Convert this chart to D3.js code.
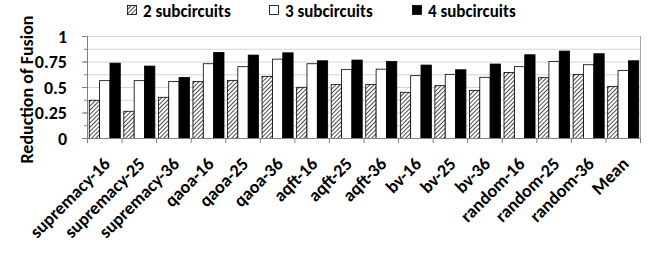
<!DOCTYPE html>
<html>
<head>
<meta charset="utf-8">
<script src="https://cdn.jsdelivr.net/npm/d3@7"></script>
<style>
  body { margin: 0; background: #fff; }
  text { font-family: Carlito, Lato, "Open Sans", sans-serif; font-weight: bold; fill: #000; }
</style>
</head>
<body>
<script>
// data
var categories = ["supremacy-16", "supremacy-25", "supremacy-36", "qaoa-16", "qaoa-25", "qaoa-36",
  "aqft-16", "aqft-25", "aqft-36", "bv-16", "bv-25", "bv-36", "random-16", "random-25", "random-36", "Mean"];
var seriesNames = ["2 subcircuits", "3 subcircuits", "4 subcircuits"];
var sub2 = [0.375, 0.267, 0.404, 0.56, 0.57, 0.609, 0.502, 0.528, 0.528, 0.453, 0.518, 0.472, 0.648, 0.596, 0.629, 0.511];
var sub3 = [0.567, 0.567, 0.56, 0.733, 0.704, 0.778, 0.733, 0.678, 0.68, 0.616, 0.629, 0.6, 0.704, 0.756, 0.723, 0.668];
var sub4 = [0.739, 0.71, 0.599, 0.844, 0.818, 0.84, 0.762, 0.769, 0.756, 0.72, 0.674, 0.73, 0.821, 0.857, 0.831, 0.762];
var yTicks = [0, 0.25, 0.5, 0.75, 1];
var yMinor = [0, 0.125, 0.25, 0.375, 0.5, 0.625, 0.75, 0.875, 1];

var series = [sub2, sub3, sub4];
var fills = ["url(#hatch)", "#fff", "#000"];

var width = 660, height = 254;
var margin = { top: 36, right: 20, bottom: 116, left: 87 };
var w = width - margin.left - margin.right,
    h = height - margin.top - margin.bottom;

var svg = d3.select("body").append("svg")
    .attr("width", width)
    .attr("height", height);

// hatch pattern
var pat = svg.append("defs").append("pattern")
    .attr("id", "hatch")
    .attr("patternUnits", "userSpaceOnUse")
    .attr("width", 3).attr("height", 3)
    .attr("patternTransform", "rotate(45)");
pat.append("rect").attr("width", 3).attr("height", 3).attr("fill", "#fff");
pat.append("line").attr("x1", 0).attr("y1", 0).attr("x2", 0).attr("y2", 3)
    .attr("stroke", "#000").attr("stroke-width", 1.4);

var g = svg.append("g")
    .attr("transform", "translate(" + margin.left + "," + margin.top + ")");

var x = d3.scaleBand().domain(categories).range([0, w]).paddingInner(0).paddingOuter(0);
var x1 = d3.scaleBand().domain(d3.range(3)).range([0, x.bandwidth()]).paddingOuter(0.17).paddingInner(0);
var y = d3.scaleLinear().domain([0, 1]).range([h, 0]);

// gridlines
g.selectAll(".grid").data(yMinor.slice(1)).enter().append("line")
    .attr("x1", 0).attr("x2", w)
    .attr("y1", function(d) { return y(d) + 0.5; })
    .attr("y2", function(d) { return y(d) + 0.5; })
    .attr("stroke", "#d4d4d4").attr("stroke-width", 1);

// frame right
g.append("line").attr("x1", w + 0.5).attr("x2", w + 0.5).attr("y1", 0).attr("y2", h)
    .attr("stroke", "#a6a6a6");

// bars
series.forEach(function(vals, si) {
  g.selectAll(".bar" + si).data(vals).enter().append("rect")
      .attr("x", function(d, i) { return x(categories[i]) + x1(si) + 0.5; })
      .attr("y", function(d) { return y(d) + 0.5; })
      .attr("width", x1.bandwidth())
      .attr("height", function(d) { return h - y(d); })
      .attr("fill", fills[si])
      .attr("stroke", "#000").attr("stroke-width", 0.8);
});

// y axis
var yAxis = g.append("g")
    .call(d3.axisLeft(y).tickValues(yTicks).tickFormat(d3.format("")).tickSize(5).tickPadding(15));
g.append("g")
    .call(d3.axisLeft(y).tickValues(yMinor).tickFormat("").tickSize(3));
g.selectAll(".domain").attr("stroke", "#808080");
g.selectAll(".tick line").attr("stroke", "#808080");
yAxis.selectAll("text").style("font-size", "18px").attr("dy", "0.36em");

// x axis
var xAxis = g.append("g")
    .attr("transform", "translate(0," + h + ")")
    .call(d3.axisBottom(x).tickSize(0).tickFormat(""));
xAxis.select(".domain").attr("stroke", "#808080");
xAxis.selectAll(".sep").data(categories.concat([""])).enter().append("line")
    .attr("x1", function(d, i) { return i * x.bandwidth() + 0.5; })
    .attr("x2", function(d, i) { return i * x.bandwidth() + 0.5; })
    .attr("y1", 0).attr("y2", 5)
    .attr("stroke", "#808080");
xAxis.selectAll(".lbl").data(categories).enter().append("text")
    .attr("text-anchor", "end")
    .style("font-size", "18px")
    .attr("transform", function(d) {
      return "translate(" + (x(d) + x.bandwidth() / 2 + 7) + ",27) rotate(-45)";
    })
    .text(function(d) { return d; });

// y title
svg.append("text")
    .attr("transform", "translate(33," + 89.5 + ") rotate(-90)")
    .attr("text-anchor", "middle")
    .style("font-size", "18px")
    .text("Reduction of Fusion");

// legend
var legX = [127, 269, 412];
var leg = svg.selectAll(".leg").data(seriesNames).enter().append("g")
    .attr("transform", function(d, i) { return "translate(" + legX[i] + ",5)"; });
leg.append("rect").attr("x", 0.5).attr("y", 0.5).attr("width", 9).attr("height", 9)
    .attr("fill", function(d, i) { return fills[i]; })
    .attr("stroke", "#000").attr("stroke-width", 0.8);
leg.append("text").attr("x", 16).attr("y", 11.5)
    .style("font-size", "17px")
    .text(function(d) { return d; });
</script>
</body>
</html>
